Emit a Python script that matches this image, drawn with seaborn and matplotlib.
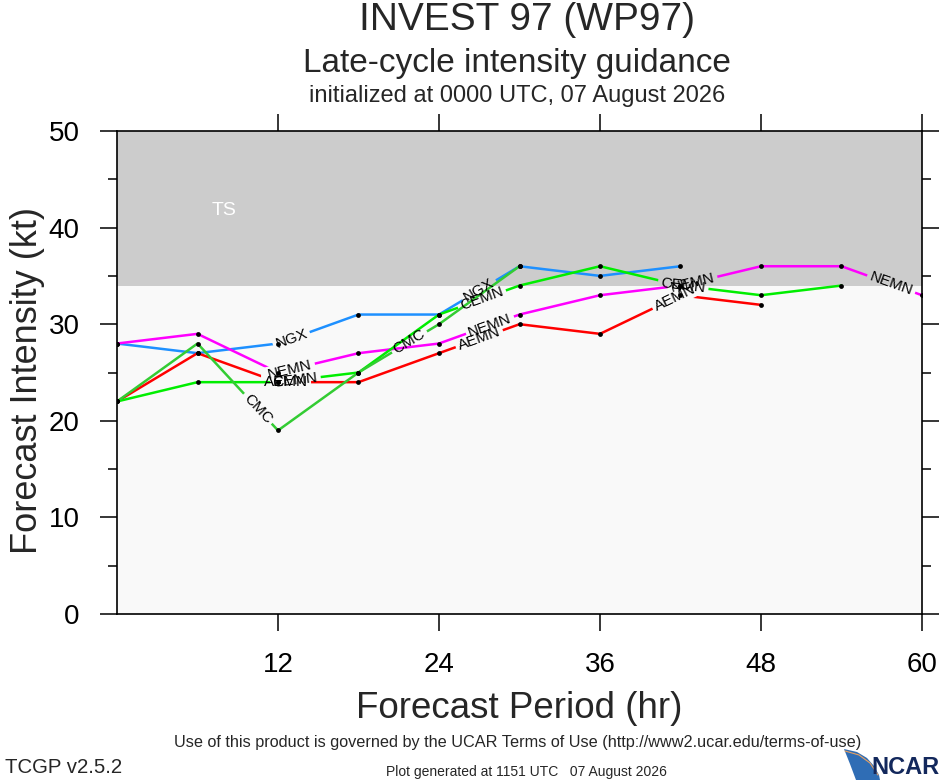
import numpy as np
import pandas as pd
import matplotlib
matplotlib.use("Agg")
import matplotlib.pyplot as plt
from matplotlib.path import Path
from matplotlib.transforms import IdentityTransform
from matplotlib.ticker import MultipleLocator
from matplotlib.patches import Polygon
import seaborn as sns

# ---------------- data ----------------
hours = [0, 6, 12, 18, 24, 30, 36, 42, 48, 54, 60]
ngx = [28, 27, 28, 31, 31, 36, 35, 36]
nemn = [28, 29, 25, 27, 28, 31, 33, 34, 36, 36, 33]
aemn = [22, 27, 24, 24, 27, 30, 29, 33, 32]
cemn = [22, 24, 24, 25, 31, 34, 36, 34, 33, 34]
cmc = [22, 28, 19, 25, 30, 36]

models = ["NGX", "NEMN", "AEMN", "CEMN", "CMC"]
series = {"NGX": ngx, "NEMN": nemn, "AEMN": aemn, "CEMN": cemn, "CMC": cmc}
colors = {"NGX": "#1e90ff", "NEMN": "#ff00ff", "AEMN": "#ff0000",
          "CEMN": "#00ee00", "CMC": "#33cc33"}

# line label placements (model, forecast hour)
label_models = ["NGX", "NGX", "NEMN", "NEMN", "NEMN", "NEMN", "AEMN", "AEMN",
                "AEMN", "CEMN", "CEMN", "CEMN", "CMC", "CMC"]
label_hours = [13.0, 27.0, 12.9, 27.8, 42.9, 57.7, 12.6, 27.0,
               41.6, 13.3, 27.2, 42.2, 10.5, 21.8]

ts_threshold = 34
x_ticks = [12, 24, 36, 48, 60]
y_ticks = [0, 10, 20, 30, 40, 50]

frames = []
for m in models:
    v = series[m]
    frames.append(pd.DataFrame({"hour": hours[:len(v)], "kt": v, "model": m}))
df = pd.concat(frames, ignore_index=True)

# ---------------- figure ----------------
sns.set_theme(style="ticks")
plt.rcParams["font.family"] = ["Liberation Sans", "DejaVu Sans"]

W, H = 939, 780
fig = plt.figure(figsize=(W / 100, H / 100), dpi=100)
fig.patch.set_facecolor("white")
ax = fig.add_axes([117 / W, 1 - 614 / H, (922 - 117) / W, (614 - 131) / H])
ax.set_facecolor("#f9f9f9")
ax.set_xlim(0, 60)
ax.set_ylim(0, 50)
ax.axhspan(ts_threshold, 50, color="#cccccc", lw=0, zorder=0)
ax.text(8.0, 41.8, "TS", color="white", fontsize=14, ha="center", va="center")

line_objs = {}
for m in models:
    sub = df[df["model"] == m]
    sns.lineplot(data=sub, x="hour", y="kt", color=colors[m], lw=1.8,
                 estimator=None, sort=False, legend=False, ax=ax, zorder=3)
    line_objs[m] = ax.lines[-1]
sns.scatterplot(data=df, x="hour", y="kt", color="black", s=12, linewidth=0,
                legend=False, ax=ax, zorder=4)

ax.set_xticks(x_ticks)
ax.set_yticks(y_ticks)
ax.yaxis.set_minor_locator(MultipleLocator(5))
ax.tick_params(which="both", direction="out", top=True, right=True,
               labeltop=False, labelright=False, color="black", width=1.1)
ax.tick_params(which="major", length=12, pad=15, labelsize=20, labelcolor="black")
ax.tick_params(which="minor", length=6.5)
ax.tick_params(axis="x", which="minor", bottom=False, top=False)
for s in ax.spines.values():
    s.set_visible(True)
    s.set_color("black")
    s.set_linewidth(1.2)
ax.set_xlabel("")
ax.set_ylabel("")

# ---------------- line labels with gaps ----------------
fig.canvas.draw()
renderer = fig.canvas.get_renderer()
holes = {m: [] for m in models}
for m, hr in zip(label_models, label_hours):
    v = series[m]
    hx = hours[:len(v)]
    yv = float(np.interp(hr, hx, v))
    i = max(0, min(len(hx) - 2, int(np.searchsorted(hx, hr, side="right") - 1)))
    p0 = ax.transData.transform((hx[i], v[i]))
    p1 = ax.transData.transform((hx[i + 1], v[i + 1]))
    ang = np.degrees(np.arctan2(p1[1] - p0[1], p1[0] - p0[0]))
    t = ax.text(hr, yv, m, fontsize=11, ha="center", va="center",
                rotation=0, rotation_mode="anchor", color="black", zorder=6)
    bb = t.get_window_extent(renderer)
    t.set_rotation(ang)
    c = ax.transData.transform((hr, yv))
    hw, hh = bb.width / 2 + 3, bb.height / 2 + 1
    a = np.radians(ang)
    u = np.array([np.cos(a), np.sin(a)])
    n = np.array([-np.sin(a), np.cos(a)])
    # clockwise rectangle (hole)
    pts = [c - hw * u - hh * n, c - hw * u + hh * n, c + hw * u + hh * n,
           c + hw * u - hh * n]
    holes[m].append(pts)

x0, y0, x1, y1 = ax.bbox.extents
for m in models:
    verts, codes = [], []
    outer = [(x0 - 5, y0 - 5), (x1 + 5, y0 - 5), (x1 + 5, y1 + 5), (x0 - 5, y1 + 5)]
    verts += outer + [outer[0]]
    codes += [Path.MOVETO] + [Path.LINETO] * 3 + [Path.CLOSEPOLY]
    for pts in holes[m]:
        pts = [tuple(p) for p in pts]
        verts += pts + [pts[0]]
        codes += [Path.MOVETO] + [Path.LINETO] * 3 + [Path.CLOSEPOLY]
    line_objs[m].set_clip_path(Path(verts, codes), IdentityTransform())

# ---------------- titles & annotations ----------------
fig.text(527 / W, 1 - 30 / H, "INVEST 97 (WP97)", ha="center", va="baseline",
         fontsize=28)
fig.text(517 / W, 1 - 72 / H, "Late-cycle intensity guidance", ha="center",
         va="baseline", fontsize=24)
fig.text(517 / W, 1 - 102 / H, "initialized at 0000 UTC, 07 August 2026",
         ha="center", va="baseline", fontsize=17)
fig.text(28 / W, 1 - 381 / H, "Forecast Intensity (kt)", rotation=90,
         ha="center", va="center", fontsize=26)
fig.text(519 / W, 1 - 718 / H, "Forecast Period (hr)", ha="center",
         va="baseline", fontsize=26.5)
fig.text(518 / W, 1 - 747 / H,
         "Use of this product is governed by the UCAR Terms of Use (http://www2.ucar.edu/terms-of-use)",
         ha="center", va="baseline", fontsize=11.7)
fig.text(5 / W, 1 - 773 / H, "TCGP v2.5.2", ha="left", va="baseline",
         fontsize=14.7)
fig.text(526 / W, 1 - 776 / H, "Plot generated at 1151 UTC   07 August 2026",
         ha="center", va="baseline", fontsize=10)

# NCAR logo (decorative)
def fp(x, y):
    return (x / W, 1 - y / H)
sw = Polygon([fp(844, 749), fp(857, 752), fp(867, 758), fp(874, 766),
              fp(879, 775), fp(880, 780), fp(856, 780), fp(850, 764)],
             closed=True, transform=fig.transFigure, facecolor="#2f6db5",
             edgecolor="none")
fig.patches.append(sw)
fig.add_artist(plt.Line2D([845 / W, 859 / W, 870 / W, 878 / W],
                          [1 - 751 / H, 1 - 755 / H, 1 - 763 / H, 1 - 775 / H],
                          transform=fig.transFigure, color="#e8a060", lw=0.8))
fig.text(905 / W, 1 - 774 / H, "NCAR", ha="center", va="baseline",
         fontsize=17, fontweight="bold", color="#13285c")

fig.savefig("out.png", dpi=100, facecolor="white")
